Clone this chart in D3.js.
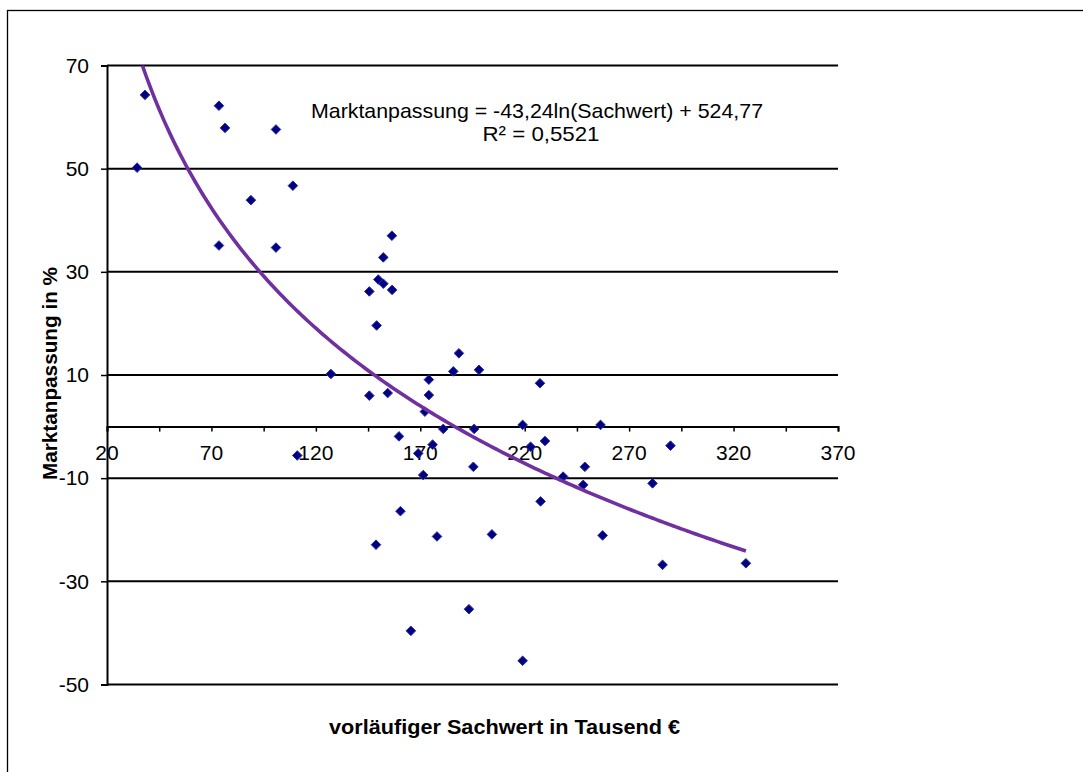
<!DOCTYPE html>
<html>
<head>
<meta charset="utf-8">
<script src="https://cdn.jsdelivr.net/npm/d3@7/dist/d3.min.js"></script>
<style>
  html, body { margin: 0; padding: 0; background: #fff; }
  svg { display: block; }
  text { font-family: "Liberation Sans", Arial, sans-serif; fill: #000; }
</style>
</head>
<body>
<svg id="chart" width="1083" height="772"></svg>
<script>
// vorläufiger Sachwert (Tausend €)
const sachwert = [
  34.4, 38.2, 73.6, 76.5, 73.6, 100.9, 100.9, 88.9, 109.0, 111.1,
  127.2, 145.6, 145.6, 149.1, 148.8, 149.9, 152.3, 152.3, 154.4, 156.4,
  156.5, 159.8, 160.5, 165.5, 169.0, 171.4, 172.2, 174.1, 174.1, 175.9,
  178.0, 181.0, 185.8, 188.5, 193.3, 195.4, 195.8, 198.1, 204.3, 219.0,
  219.0, 222.8, 227.3, 227.6, 229.7, 238.4, 248.0, 248.8, 256.3, 257.3,
  281.2, 286.0, 289.8, 325.9
];
// Marktanpassung (%)
const marktanpassung = [
  50.2, 64.3, 62.2, 57.9, 35.1, 57.6, 34.7, 43.9, 46.7, -5.6,
  10.2, 26.2, 6.0, 19.6, -22.9, 28.5, 27.7, 32.8, 6.5, 37.0,
  26.5, -1.9, -16.4, -39.6, -5.2, -9.4, 2.9, 9.1, 6.1, -3.5,
  -21.3, -0.45, 10.7, 14.2, -35.4, -7.8, -0.45, 11.0, -20.9, 0.33,
  -45.4, -3.9, 8.4, -14.5, -2.8, -9.7, -11.3, -7.8, 0.33, -21.1,
  -11.0, -26.8, -3.7, -26.5
];

// Axis ticks
const xTicks = [20, 70, 120, 170, 220, 270, 320, 370];
const xMinorTicks = d3.range(20, 371, 25);
const yTicks = [70, 50, 30, 10, -10, -30, -50];

// Logarithmic trendline (Sachwert in €, axis in Tausend €)
const trendSlope = -43.24;
const trendIntercept = 524.77;
const unitFactor = 1000;
const equationLabel = "Marktanpassung = -43,24ln(Sachwert) + 524,77";
const r2Label = "R² = 0,5521";

const xTitle = "vorläufiger Sachwert in Tausend €";
const yTitle = "Marktanpassung in %";

const svg = d3.select("#chart");
const plot = { left: 107, right: 838, top: 65.5, bottom: 684.5 };
const font = '"Liberation Sans", Arial, sans-serif';

const x = d3.scaleLinear().domain([20, 370]).range([plot.left, plot.right]);
const y = d3.scaleLinear().domain([-50, 70]).range([plot.bottom, plot.top]);

// plain hyphen for negative numbers
const numFmt = d => String(d);

// outer chart frame
svg.append("rect")
  .attr("x", 7.5).attr("y", 10.5)
  .attr("width", 1100).attr("height", 800)
  .attr("fill", "#fff").attr("stroke", "#000").attr("stroke-width", 1.3);

// horizontal gridlines
svg.append("g")
  .selectAll("line")
  .data(yTicks)
  .join("line")
  .attr("x1", plot.left).attr("x2", plot.right)
  .attr("y1", d => y(d)).attr("y2", d => y(d))
  .attr("stroke", "#000").attr("stroke-width", 2);

// y axis with ticks pointing left
const yAxis = d3.axisLeft(y).tickValues(yTicks).tickSize(6).tickPadding(12).tickFormat(numFmt);
const gy = svg.append("g").attr("transform", `translate(${plot.left},0)`).call(yAxis);
gy.select(".domain").attr("stroke", "#000").attr("stroke-width", 2);
gy.selectAll(".tick line").attr("stroke", "#000").attr("stroke-width", 1.5);
gy.selectAll(".tick text")
  .attr("font-size", 21).attr("font-family", font)
  .attr("fill", "#000");

// x axis crossing at 0, minor ticks every 25
const xAxis = d3.axisBottom(x).tickValues(xMinorTicks).tickSize(5).tickFormat("");
const gx = svg.append("g").attr("transform", `translate(0,${y(0)})`).call(xAxis);
gx.select(".domain").attr("stroke", "#000").attr("stroke-width", 2);
gx.selectAll(".tick line").attr("stroke", "#000").attr("stroke-width", 1.5);

svg.append("g")
  .selectAll("text")
  .data(xTicks)
  .join("text")
  .attr("x", d => x(d))
  .attr("y", y(0) + 33)
  .attr("text-anchor", "middle")
  .attr("font-size", 21)
  .text(numFmt);

// trendline, evaluated across the data range and clipped to the plot area
svg.append("clipPath").attr("id", "plotClip")
  .append("rect")
  .attr("x", plot.left).attr("y", plot.top)
  .attr("width", plot.right - plot.left).attr("height", plot.bottom - plot.top);

const [xMin, xMax] = d3.extent(sachwert);
const trendX = d3.range(0, 201).map(i => xMin + (xMax - xMin) * i / 200);
const trend = v => trendSlope * Math.log(v * unitFactor) + trendIntercept;

// data points: dark blue diamonds
const diamond = "M0,-4.8L4.8,0L0,4.8L-4.8,0Z";
svg.append("g")
  .selectAll("path")
  .data(sachwert.map((v, i) => [v, marktanpassung[i]]))
  .join("path")
  .attr("d", diamond)
  .attr("transform", d => `translate(${x(d[0])},${y(d[1])})`)
  .attr("fill", "#000080")
  .attr("stroke", "#2b2ba6")
  .attr("stroke-width", 1);

svg.append("path")
  .datum(trendX)
  .attr("clip-path", "url(#plotClip)")
  .attr("fill", "none")
  .attr("stroke", "#7030a0")
  .attr("stroke-width", 3.6)
  .attr("d", d3.line().x(d => x(d)).y(d => y(trend(d))));

// regression label
svg.append("text")
  .attr("x", 537).attr("y", 118)
  .attr("text-anchor", "middle")
  .attr("font-size", 21)
  .attr("textLength", 452).attr("lengthAdjust", "spacingAndGlyphs")
  .text(equationLabel);
svg.append("text")
  .attr("x", 541).attr("y", 141)
  .attr("text-anchor", "middle")
  .attr("font-size", 21)
  .attr("textLength", 117).attr("lengthAdjust", "spacingAndGlyphs")
  .text(r2Label);

// axis titles
svg.append("text")
  .attr("x", 504.5).attr("y", 734)
  .attr("text-anchor", "middle")
  .attr("font-size", 20).attr("font-weight", "bold")
  .attr("textLength", 351).attr("lengthAdjust", "spacingAndGlyphs")
  .text(xTitle);
svg.append("text")
  .attr("transform", "translate(57,373.5) rotate(-90)")
  .attr("text-anchor", "middle")
  .attr("font-size", 21).attr("font-weight", "bold")
  .attr("textLength", 213).attr("lengthAdjust", "spacingAndGlyphs")
  .text(yTitle);
</script>
</body>
</html>
